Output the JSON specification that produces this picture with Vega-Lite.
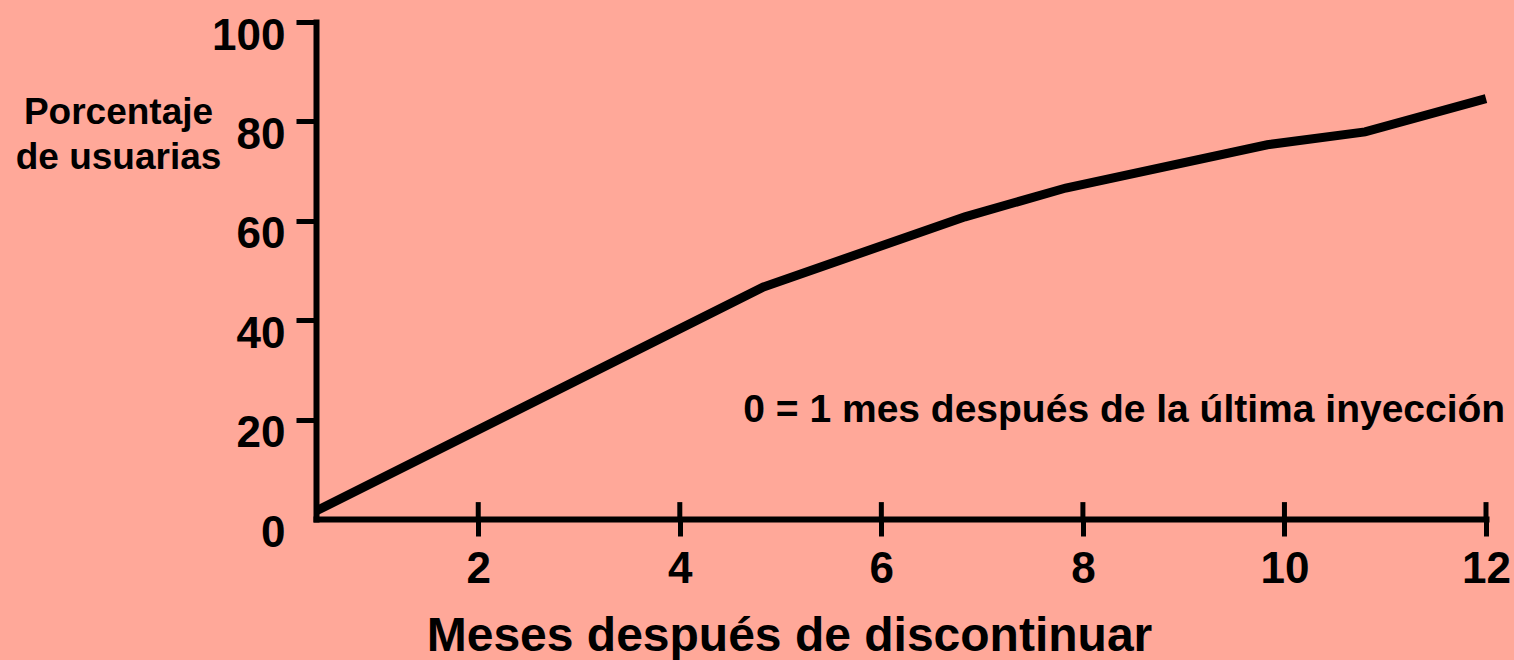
{
  "$schema": "https://vega.github.io/schema/vega-lite/v6.json",
  "width": 1170,
  "height": 497,
  "autosize": {"type": "none"},
  "padding": {"left": 316, "top": 22, "right": 28, "bottom": 141},
  "background": "#FFA899",
  "config": {"view": {"stroke": null}, "font": "Liberation Sans"},
  "datasets": {
    "curve": [
      {"x": 0.39, "y": 1.6},
      {"x": 3.875, "y": 37.0},
      {"x": 4.83, "y": 46.7},
      {"x": 6.83, "y": 60.8},
      {"x": 7.83, "y": 66.6},
      {"x": 9.83, "y": 75.3},
      {"x": 10.8, "y": 77.9},
      {"x": 12.0, "y": 84.6}
    ],
    "ticks": [{"x": 2}, {"x": 4}, {"x": 6}, {"x": 8}, {"x": 10}, {"x": 12}],
    "note": [{"x": 4.63, "y": 19.5, "label": "0 = 1 mes después de la última inyección"}]
  },
  "layer": [
    {
      "data": {"name": "curve"},
      "mark": {"type": "line", "color": "black", "strokeWidth": 9, "strokeCap": "butt", "clip": false},
      "encoding": {
        "x": {
          "field": "x", "type": "quantitative",
          "scale": {"domain": [0.39, 12], "nice": false, "zero": false},
          "title": "Meses después de discontinuar",
          "axis": {
            "values": [2, 4, 6, 8, 10, 12],
            "format": "d",
            "grid": false,
            "domainWidth": 6, "domainColor": "black", "domainCap": "square",
            "tickSize": 17, "tickWidth": 5, "tickColor": "black",
            "labelFont": "Liberation Sans", "labelFontSize": 44, "labelFontWeight": "bold", "labelColor": "black",
            "labelPadding": 11, "labelFlush": false, "labelOverlap": false,
            "titleFont": "Liberation Sans", "titleFontSize": 48, "titleFontWeight": "bold", "titleColor": "black",
            "titleX": 473, "titleY": 131, "titleAlign": "center", "titleBaseline": "alphabetic"
          }
        },
        "y": {
          "field": "y", "type": "quantitative",
          "scale": {"domain": [0, 100], "nice": false},
          "title": ["Porcentaje", "de usuarias"],
          "axis": {
            "values": [0, 20, 40, 60, 80, 100],
            "format": "d",
            "grid": false,
            "domainWidth": 6, "domainColor": "black", "domainCap": "square",
            "tickSize": 20, "tickWidth": 5, "tickColor": "black",
            "tickOpacity": {"condition": {"test": "datum.value === 0", "value": 0}, "value": 1},
            "labelFont": "Liberation Sans", "labelFontSize": 44, "labelFontWeight": "bold", "labelColor": "black",
            "labelPadding": 11, "labelBaseline": "alphabetic", "labelOffset": 27, "labelAlign": "right",
            "labelFlush": false, "labelOverlap": false,
            "titleFont": "Liberation Sans", "titleFontSize": 37, "titleFontWeight": "bold", "titleColor": "black",
            "titleAngle": 0, "titleX": -198, "titleY": 101, "titleAlign": "center", "titleBaseline": "alphabetic",
            "titleLineHeight": 45
          }
        }
      }
    },
    {
      "data": {"name": "ticks"},
      "mark": {"type": "rule", "color": "black", "strokeWidth": 5, "clip": false},
      "encoding": {
        "x": {"field": "x", "type": "quantitative"},
        "y": {"datum": 0},
        "y2": {"datum": 3.4}
      }
    },
    {
      "data": {"name": "note"},
      "mark": {"type": "text", "align": "left", "baseline": "alphabetic", "fontSize": 39, "fontWeight": "bold", "font": "Liberation Sans", "color": "black"},
      "encoding": {
        "x": {"field": "x", "type": "quantitative"},
        "y": {"field": "y", "type": "quantitative"},
        "text": {"field": "label"}
      }
    }
  ]
}
